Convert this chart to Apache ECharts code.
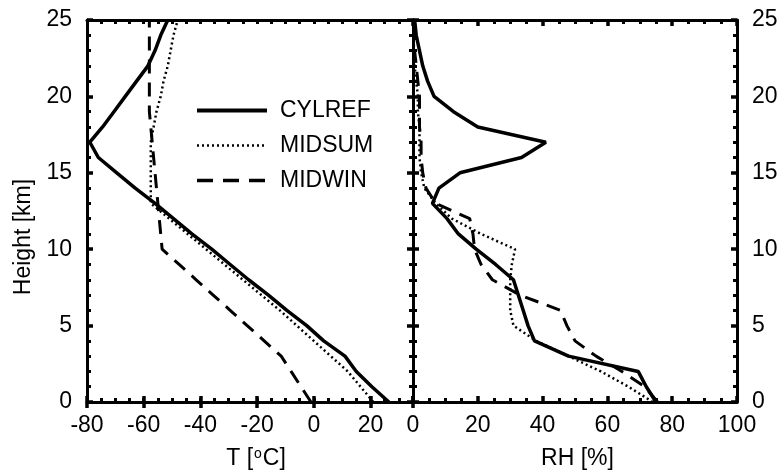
<!DOCTYPE html>
<html>
<head>
<meta charset="utf-8">
<script src="https://cdn.jsdelivr.net/npm/echarts@6/dist/echarts.min.js"></script>
<style>
  html, body { margin: 0; padding: 0; background: #fff; }
  #chart { width: 783px; height: 475px; }
</style>
</head>
<body>
<div id="chart"></div>
<script>
// Height levels (km)
const heights = [0, 1, 2, 3, 4, 5, 6, 7, 8, 9, 10, 11, 12, 13, 14, 15, 16, 17, 18, 19, 20, 21, 22, 23, 24, 25];

// Temperature profiles (deg C)
const tempCylref = [26.5, 20.5, 15, 11, 3.5, -2.5, -9.5, -16, -23, -29.5, -36, -43, -49.5, -56, -63, -69.5, -76, -79, -74.5, -70.5, -66.5, -62.5, -58.5, -56, -54, -51.5];
const tempMidsum = [21, 16.5, 12, 6, 0, -6, -12, -18.5, -25, -31.5, -38, -44.5, -51, -57.5, -57.5, -57.5, -57.5, -57.5, -56.5, -55.5, -54, -53, -51.5, -50.5, -49.5, -48];
const tempMidwin = [-1, -4.5, -8, -11.5, -17.5, -23.5, -29.5, -35.5, -41.5, -47.5, -53.5, -54, -54.5, -55, -55.5, -56, -56.5, -57, -57.5, -58, -58, -58, -58, -58, -58, -58];

// Relative humidity profiles (%)
const rhCylref = [75, 72, 69.5, 48, 37.5, 35.5, 34, 32.5, 31, 25.5, 19.5, 14, 10.5, 6, 8, 14.5, 33.5, 41, 20, 12.5, 6.5, 4.5, 3, 2, 1, 0.5];
const rhMidsum = [74, 66.5, 58, 48, 38, 31, 30, 30, 30, 30.5, 31.5, 21, 12, 7, 3.5, 2.5, 2, 2, 2, 1.5, 1.5, 1, 0.5, 0.3, 0.2, 0.2];
const rhMidwin = [75.5, 71.5, 64.5, 56.5, 50, 47.5, 45.5, 33, 24.5, 21, 19, 18.5, 17.5, 7, 4, 3, 2.5, 2.5, 2, 2, 2, 1.5, 1, 0.5, 0.5, 0.5];

const seriesNames = ['CYLREF', 'MIDSUM', 'MIDWIN'];

const FONT = 'Liberation Sans, Arial, Helvetica, sans-serif';
const BLACK = '#000';

const lineStyles = [
  { color: BLACK, width: 3.5, type: 'solid' },
  { color: BLACK, width: 2.5, type: [2, 3] },
  { color: BLACK, width: 3, type: [14, 9] }
];
const legendLineStyles = [
  { color: BLACK, width: 4, type: 'solid' },
  { color: BLACK, width: 2.5, type: [2, 3] },
  { color: BLACK, width: 3.5, type: [16, 10] }
];

const pairs = (xs) => xs.map((x, i) => [x, heights[i]]);

// Axis helpers
function tickAxis(extra) {
  return Object.assign({
    type: 'value',
    splitLine: { show: false },
    axisLine: { show: true, onZero: false, lineStyle: { color: BLACK, width: 3 } },
    axisTick: { show: true, inside: true, length: 4, lineStyle: { color: BLACK, width: 3 } },
    axisLabel: { show: false }
  }, extra);
}

const labelStyle = { color: BLACK, fontSize: 23, fontFamily: FONT };
const majorTick = { show: true, inside: true, length: 6, lineStyle: { color: BLACK, width: 3.5 } };
const minorTickStyle = (n) => ({ show: true, splitNumber: n, length: 4, lineStyle: { color: BLACK, width: 3 } });
const titleStyle = { color: BLACK, fontSize: 23, fontFamily: FONT };

const xAxes = [
  // left panel: temperature, minor ticks every 5 with labels every 20
  tickAxis({
    gridIndex: 0, min: -80, max: 35, interval: 5, position: 'bottom',
    axisLabel: Object.assign({ show: true, margin: 12, showMaxLabel: false,
      formatter: v => (v % 20 === 0 && v <= 20) ? String(v) : '' }, labelStyle),
    name: 'T [{s|o}C]', nameLocation: 'middle', nameGap: 45,
    nameTextStyle: Object.assign({
      padding: [0, 0, 0, 12],
      rich: { s: { fontSize: 14, verticalAlign: 'top', color: BLACK, fontFamily: FONT, padding: [0, 1, 9, 1] } }
    }, titleStyle)
  }),
  tickAxis({ gridIndex: 0, min: -80, max: 35, interval: 20, position: 'bottom',
    axisLine: { show: false }, axisTick: majorTick }),
  tickAxis({ gridIndex: 0, min: -80, max: 35, interval: 5, position: 'top' }),
  tickAxis({ gridIndex: 0, min: -80, max: 35, interval: 20, position: 'top',
    axisLine: { show: false }, axisTick: majorTick }),
  // right panel: relative humidity
  tickAxis({
    gridIndex: 1, min: 0, max: 100, interval: 20, position: 'bottom',
    axisTick: majorTick, minorTick: minorTickStyle(4),
    axisLabel: Object.assign({ show: true, margin: 12 }, labelStyle),
    name: 'RH [%]', nameLocation: 'middle', nameGap: 45,
    nameTextStyle: Object.assign({ padding: [0, 0, 0, 5] }, titleStyle)
  }),
  tickAxis({
    gridIndex: 1, min: 0, max: 100, interval: 20, position: 'top',
    axisTick: majorTick, minorTick: minorTickStyle(4)
  })
];

function heightAxis(grid, pos, withLabels, withName) {
  const ax = tickAxis({
    gridIndex: grid, min: 0, max: 25, interval: 5, position: pos,
    axisTick: majorTick, minorTick: minorTickStyle(5)
  });
  if (withLabels) {
    ax.axisLabel = Object.assign({ show: true, margin: 15 }, labelStyle);
  }
  if (withName) {
    ax.name = 'Height [km]';
    ax.nameLocation = 'middle';
    ax.nameGap = 52;
    ax.nameTextStyle = Object.assign({ padding: [0, 52, 0, 0] }, titleStyle);
  }
  return ax;
}

const yAxes = [
  heightAxis(0, 'left', true, true),
  heightAxis(0, 'right', false, false),
  heightAxis(1, 'left', false, false),
  heightAxis(1, 'right', true, false)
];

const series = [];
[tempCylref, tempMidsum, tempMidwin].forEach((arr, i) => {
  series.push({
    name: seriesNames[i], type: 'line', xAxisIndex: 0, yAxisIndex: 0,
    data: pairs(arr), symbol: 'none', showSymbol: false, color: BLACK,
    lineStyle: lineStyles[i], z: 5 - i
  });
});
[rhCylref, rhMidsum, rhMidwin].forEach((arr, i) => {
  series.push({
    name: seriesNames[i], type: 'line', xAxisIndex: 4, yAxisIndex: 2,
    data: pairs(arr), symbol: 'none', showSymbol: false, color: BLACK,
    lineStyle: lineStyles[i], z: 5 - i
  });
});

const chart = echarts.init(document.getElementById('chart'), null, { renderer: 'canvas' });
chart.setOption({
  backgroundColor: '#fff',
  animation: false,
  grid: [
    { left: 87, top: 20, width: 326, height: 390 },
    { left: 413, top: 20, width: 324, height: 390 }
  ],
  legend: {
    data: seriesNames.map((n, i) => ({ name: n, lineStyle: legendLineStyles[i] })),
    orient: 'vertical',
    left: 195, top: 99,
    itemWidth: 70, itemHeight: 14, itemGap: 12,
    itemStyle: { opacity: 0 },
    textStyle: { color: BLACK, fontSize: 23, fontFamily: FONT, padding: [0, 0, 0, 8] },
    padding: 0
  },
  xAxis: xAxes,
  yAxis: yAxes,
  series: series
});
</script>
</body>
</html>
